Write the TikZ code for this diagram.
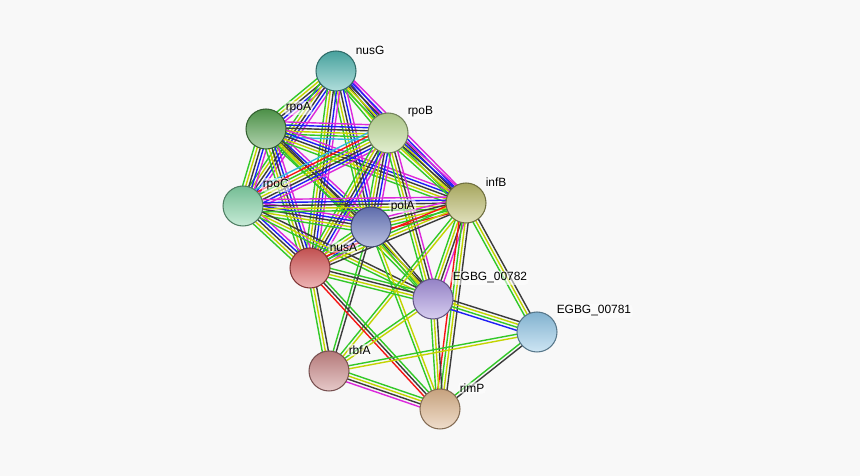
\documentclass[tikz,border=0pt]{standalone}
\usepackage{fontspec}
\setmainfont{Liberation Sans}
\usetikzlibrary{calc,backgrounds}

\definecolor{bg}{RGB}{248,248,248}
\definecolor{cgrn}{RGB}{50,200,40}
\definecolor{ctm}{RGB}{195,212,0}
\definecolor{cblk}{RGB}{60,60,60}
\definecolor{cblu}{RGB}{30,30,245}
\definecolor{cmag}{RGB}{220,40,220}
\definecolor{cred}{RGB}{245,20,20}
\definecolor{ccyn}{RGB}{50,185,220}
% protein colours
\definecolor{pnusG}{RGB}{80,180,175}
\definecolor{prpoA}{RGB}{85,160,80}
\definecolor{prpoB}{RGB}{190,218,150}
\definecolor{prpoC}{RGB}{130,210,165}
\definecolor{ppolA}{RGB}{105,120,190}
\definecolor{pinfB}{RGB}{185,185,105}
\definecolor{pnusA}{RGB}{215,90,90}
\definecolor{pe782}{RGB}{165,145,220}
\definecolor{pe781}{RGB}{145,198,230}
\definecolor{prbfA}{RGB}{200,135,135}
\definecolor{primP}{RGB}{220,180,140}

\pgfdeclarelayer{edges}
\pgfsetlayers{background,edges,main}

\tikzset{
  prot/.style={circle, minimum size=0.8cm, inner sep=0pt,
    top color=#1!90!black, bottom color=#1!45!white, draw=#1!60!black, line width=0.6pt,
    path picture={\fill[white, opacity=0.65]
      ($(path picture bounding box.north)+(0,-0.14)$) ellipse (0.19 and 0.09);}},
  lbl/.style={anchor=west, font=\fontsize{6.8}{8}\selectfont, inner sep=0.8pt,
    fill=white, fill opacity=0.55, text opacity=1, rounded corners=2pt}
}

% bundle of coloured parallel lines between two proteins
\newcommand{\bundle}[3]{%
  \foreach \c [count=\n] in {#3} {\xdef\bcount{\n}}%
  \foreach \c [count=\i] in {#3} {%
    \pgfmathsetmacro\off{(\i-(\bcount+1)/2)*1.75}%
    \draw[\c] ($(#1.center)!\off pt!90:(#2.center)$) -- ($(#2.center)!\off pt!-90:(#1.center)$);
  }}

\begin{document}
\begin{tikzpicture}[x=0.02cm, y=-0.02cm]
  \begin{pgfonlayer}{background}
    \fill[bg] (0,0) rectangle (860,476);
  \end{pgfonlayer}
  \useasboundingbox (0,0) rectangle (860,476);

  \node[prot=pnusG] (nusG) at (336,71) {};
  \node[prot=prpoA] (rpoA) at (266,129) {};
  \node[prot=prpoB] (rpoB) at (388,133) {};
  \node[prot=prpoC] (rpoC) at (243,206) {};
  \node[prot=ppolA] (polA) at (371,227) {};
  \node[prot=pinfB] (infB) at (466,203) {};
  \node[prot=pnusA] (nusA) at (310,268) {};
  \node[prot=pe782] (e782) at (433,299) {};
  \node[prot=pe781] (e781) at (537,332) {};
  \node[prot=prbfA] (rbfA) at (329,371) {};
  \node[prot=primP] (rimP) at (440,409) {};

  \node[lbl] (nusGl) at (354,50) {nusG};
  \node[lbl] (rpoAl) at (284,108) {rpoA};
  \node[lbl] (rpoBl) at (406,112) {rpoB};
  \node[lbl] (rpoCl) at (261,185) {rpoC};
  \node[lbl] (polAl) at (389,206) {polA};
  \node[lbl] (infBl) at (484,182) {infB};
  \node[lbl] (nusAl) at (328,247) {nusA};
  \node[lbl] (e782l) at (451,278) {EGBG\_00782};
  \node[lbl] (e781l) at (555,311) {EGBG\_00781};
  \node[lbl] (rbfAl) at (347,350) {rbfA};
  \node[lbl] (rimPl) at (458,388) {rimP};

  \begin{pgfonlayer}{edges}
  \begin{scope}[line width=0.8pt]
    \bundle{nusG}{rpoA}{cgrn,ctm,cblk,cblu,cmag}
    \bundle{nusG}{rpoB}{cgrn,ctm,cblk,cblu,cmag}
    \bundle{nusG}{rpoC}{cgrn,ctm,cblk,cblu,cmag}
    \bundle{nusG}{polA}{cgrn,ctm,cblk,cblu,cmag}
    \bundle{nusG}{infB}{cgrn,ctm,cblk,cblu,cmag}
    \bundle{nusG}{nusA}{cgrn,ctm,cblk,cblu,cmag}
    \bundle{rpoA}{rpoB}{ccyn,cgrn,ctm,cblk,cblu,cmag}
    \bundle{rpoA}{rpoC}{cgrn,ctm,cblk,cblu,cmag}
    \bundle{rpoA}{polA}{cgrn,ctm,cblk,cblu,cmag}
    \bundle{rpoA}{infB}{cgrn,ctm,cblk,cblu,cmag}
    \bundle{rpoA}{nusA}{cgrn,ctm,cblk,cblu,cmag}
    \bundle{rpoA}{e782}{cgrn,ctm,cblk}
    \bundle{rpoB}{rpoC}{ccyn,cred,cgrn,ctm,cblk,cblu,cmag}
    \bundle{rpoB}{polA}{cgrn,ctm,cblk,cblu,cmag}
    \bundle{rpoB}{infB}{cgrn,ctm,cblk,cblu,cmag}
    \bundle{rpoB}{nusA}{cgrn,ctm,cblk,cblu,cmag}
    \bundle{rpoB}{e782}{cgrn,ctm,cblk,cmag}
    \bundle{rpoC}{polA}{cgrn,ctm,cblk,cblu,cmag}
    \bundle{rpoC}{infB}{cgrn,ctm,cblk,cblu,cmag}
    \bundle{rpoC}{nusA}{cgrn,ctm,cblk,cblu,cmag}
    \bundle{rpoC}{e782}{cgrn,ctm,cblk}
    \bundle{polA}{infB}{cred,cgrn,ctm,cblk,cmag}
    \bundle{polA}{nusA}{cgrn,ctm,cblk,cblu,cmag}
    \bundle{polA}{e782}{cgrn,ctm,cblk}
    \bundle{polA}{rbfA}{cgrn,cblk}
    \bundle{polA}{rimP}{cgrn,ctm}
    \bundle{infB}{nusA}{cred,cgrn,ctm,cblk}
    \bundle{infB}{e782}{cgrn,ctm,cblk,cmag}
    \bundle{infB}{e781}{cgrn,ctm,cblk}
    \bundle{infB}{rbfA}{cgrn,ctm}
    \bundle{infB}{rimP}{cred,cgrn,ctm,cblk}
    \bundle{nusA}{e782}{cgrn,ctm,cblk,cgrn}
    \bundle{nusA}{rbfA}{cgrn,ctm,cblk}
    \bundle{nusA}{rimP}{cred,cblk,cgrn}
    \bundle{e782}{e781}{cblu,cgrn,ctm,cblk}
    \bundle{e782}{rbfA}{cgrn,ctm}
    \bundle{e782}{rimP}{cgrn,ctm,cblk}
    \bundle{e781}{rbfA}{cgrn,ctm}
    \bundle{e781}{rimP}{cgrn,cblk}
    \bundle{rbfA}{rimP}{cmag,cblk,ctm,cgrn}
  \end{scope}
  \end{pgfonlayer}
\end{tikzpicture}
\end{document}
